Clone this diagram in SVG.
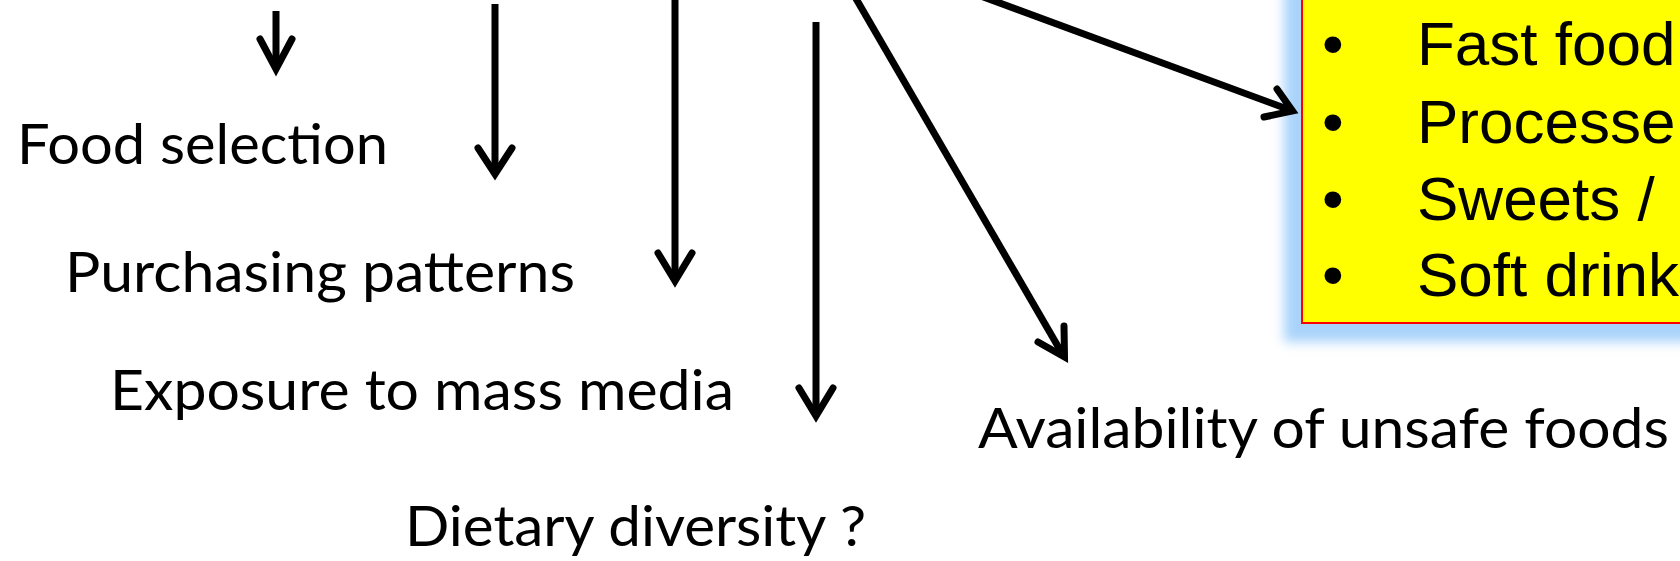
<svg xmlns="http://www.w3.org/2000/svg" width="1680" height="561" viewBox="0 0 1680 561">
  <defs>
    <filter id="glow" x="-20%" y="-20%" width="140%" height="140%">
      <feGaussianBlur stdDeviation="6"/>
    </filter>
    <style>
      .lbl { font-family: Lato, "Open Sans", sans-serif; font-size: 57px; fill: #000; }
      .item { font-family: "Liberation Sans", Arial, sans-serif; font-size: 62px; fill: #000; }
      .shaft { stroke: #000; stroke-width: 7; fill: none; }
      .head { stroke: #000; stroke-width: 7; fill: none; stroke-linecap: round; stroke-linejoin: miter; stroke-miterlimit: 10; }
    </style>
  </defs>
  <rect width="1680" height="561" fill="#ffffff"/>

  <g id="unsafe-foods-box">
    <rect x="1284" y="-30" width="420" height="372" fill="#a9d3fb" filter="url(#glow)"/>
    <rect x="1302" y="-10" width="400" height="333" fill="#ffff00" stroke="#ff0000" stroke-width="2"/>
    <text class="item" x="1322" y="65">•</text>
    <text class="item" x="1417" y="65">Fast food</text>
    <text class="item" x="1322" y="143">•</text>
    <text class="item" x="1417" y="143">Processe</text>
    <text class="item" x="1322" y="220">•</text>
    <text class="item" x="1417" y="220">Sweets /</text>
    <text class="item" x="1322" y="296">•</text>
    <text class="item" x="1417" y="296">Soft drink</text>
  </g>

  <g id="food-selection">
    <text class="lbl" x="17" y="164" textLength="371" lengthAdjust="spacingAndGlyphs">Food selection</text>
  </g>
  <g id="purchasing-patterns">
    <text class="lbl" x="65" y="292" textLength="510" lengthAdjust="spacingAndGlyphs">Purchasing patterns</text>
  </g>
  <g id="exposure-mass-media">
    <text class="lbl" x="110" y="410" textLength="624" lengthAdjust="spacingAndGlyphs">Exposure to mass media</text>
  </g>
  <g id="dietary-diversity">
    <text class="lbl" x="405" y="546" textLength="461" lengthAdjust="spacingAndGlyphs">Dietary diversity ?</text>
  </g>
  <g id="availability-unsafe-foods">
    <text class="lbl" x="978" y="448" textLength="691" lengthAdjust="spacingAndGlyphs">Availability of unsafe foods</text>
  </g>

  <g id="connectors">
    <line class="shaft" x1="276" y1="11" x2="276" y2="67"/>
    <polyline class="head" points="260,39 276,69 292,39"/>

    <line class="shaft" x1="495" y1="4" x2="495" y2="171"/>
    <polyline class="head" points="478,148 495,174 512,148"/>

    <line class="shaft" x1="675" y1="-5" x2="675" y2="278"/>
    <polyline class="head" points="658,253 675,281 692,253"/>

    <line class="shaft" x1="816" y1="22" x2="816" y2="413"/>
    <polyline class="head" points="799,388 816,416 833,388"/>

    <line class="shaft" x1="851" y1="-10" x2="1063" y2="355"/>
    <polyline class="head" points="1038,342 1064.5,357 1064,326"/>

    <line class="shaft" x1="978" y1="-5" x2="1290" y2="110"/>
    <polyline class="head" points="1264,117 1292.5,111 1277,89"/>
  </g>
</svg>
